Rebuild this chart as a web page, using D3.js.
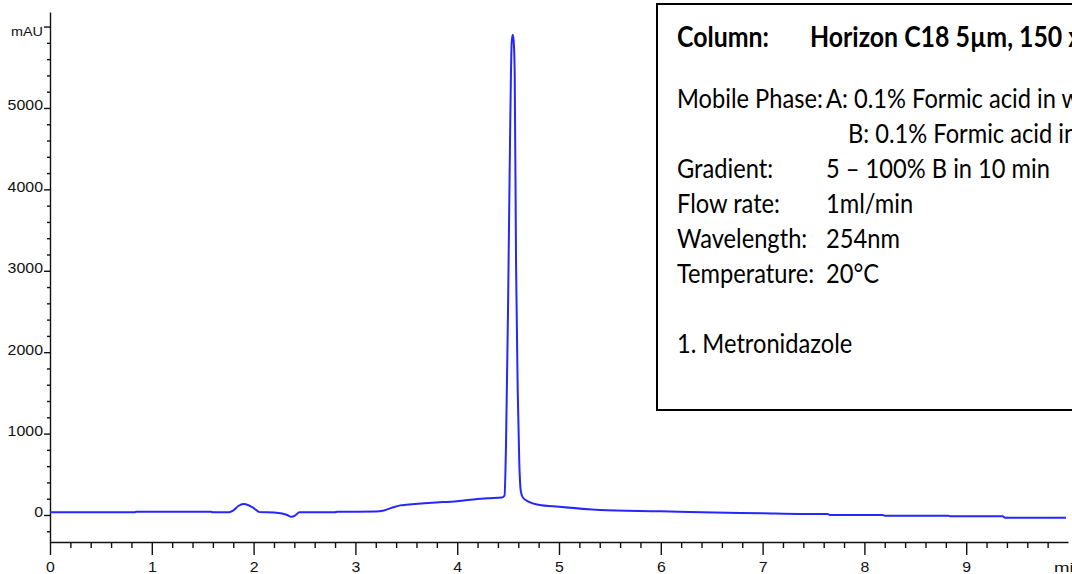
<!DOCTYPE html>
<html>
<head>
<meta charset="utf-8">
<script src="https://cdn.jsdelivr.net/npm/d3@7"></script>
<style>
  body { margin: 0; background: #fff; overflow: hidden; }
  svg { display: block; }
</style>
</head>
<body>
<script>
// chromatogram trace (time in min, signal in mAU)
var times = [0, 0.83, 0.85, 1.58, 1.6, 1.76, 1.8, 1.85, 1.9, 1.95, 2.0, 2.06, 2.2, 2.28, 2.33, 2.37, 2.41, 2.45,
  2.8, 2.82, 3.2, 3.28, 3.36, 3.44, 3.5, 3.75, 4.0, 4.2, 4.3, 4.44, 4.465, 4.48, 4.5, 4.52, 4.535, 4.545,
  4.555, 4.565, 4.578, 4.595, 4.61, 4.625, 4.645, 4.7, 4.8, 5.0, 5.4, 6.0, 6.4, 7.0, 7.37, 7.64, 7.66,
  8.18, 8.2, 8.82, 8.84, 9.36, 9.38, 9.98];
var signal = [33, 33, 40, 40, 33, 33, 55, 110, 135, 120, 85, 35, 30, 18, 0, -22, -5, 35,
  35, 40, 42, 55, 90, 118, 125, 150, 170, 195, 205, 215, 240, 900, 2600, 4700, 5800, 5900,
  5820, 5400, 3100, 1500, 640, 290, 215, 165, 125, 100, 62, 45, 32, 20, 12, 12, 0,
  0, -8, -8, -16, -16, -33, -33];

var xTicks = [0, 1, 2, 3, 4, 5, 6, 7, 8, 9];
var yTicks = [0, 1000, 2000, 3000, 4000, 5000, 6000];
var xUnit = "min";
var yUnit = "mAU";

// method box
var infoLabels = ["Mobile Phase:", "", "Gradient:", "Flow rate:", "Wavelength:", "Temperature:"];
var infoValues = ["A: 0.1% Formic acid in water", "B: 0.1% Formic acid in acetonitrile",
  "5 \u2013 100% B in 10 min", "1ml/min", "254nm", "20\u00B0C"];
var columnLabel = "Column:";
var columnValue = "Horizon C18 5\u00B5m, 150 x 4.6mm";
var peaks = ["1. Metronidazole"];

var width = 1072, height = 574;

var svg = d3.select("body").append("svg")
    .attr("width", width)
    .attr("height", height);

var x = d3.scaleLinear().domain([0, 10]).range([50, 1068]);
var y = d3.scaleLinear().domain([-332, 6179]).range([542, 12]);

var tickFont = "Liberation Sans, Arial, sans-serif";

// minor ticks
var xMinor = d3.range(1, 50).map(function(i) { return i / 5; }).filter(function(v) { return v % 1 !== 0; });
var yMinor = d3.range(-1, 31).map(function(i) { return i * 200; }).filter(function(v) { return v % 1000 !== 0; });

svg.append("g")
    .attr("transform", "translate(0," + y.range()[0] + ")")
    .call(d3.axisBottom(x).tickValues(xMinor).tickSize(6).tickSizeOuter(0).tickFormat(""))
    .call(function(g) { g.select(".domain").remove(); });

svg.append("g")
    .attr("transform", "translate(" + x.range()[0] + ",0)")
    .call(d3.axisLeft(y).tickValues(yMinor).tickSize(3).tickSizeOuter(0).tickFormat(""))
    .call(function(g) { g.select(".domain").remove(); });

function tickText(sel, size) {
  sel.attr("fill", "#111")
    .attr("font-family", tickFont)
    .attr("font-size", size);
}

// x axis
var xAxis = svg.append("g")
    .attr("transform", "translate(0," + y.range()[0] + ")")
    .call(d3.axisBottom(x).tickValues(xTicks).tickSize(13).tickSizeOuter(0).tickFormat(d3.format("d")));
xAxis.selectAll("text")
    .attr("y", 30)
    .attr("dy", 0)
    .call(tickText, 15)
    .attr("textLength", function(d) { return String(d).length * 8.8; })
    .attr("lengthAdjust", "spacingAndGlyphs");
xAxis.append("text")
    .attr("x", 1054)
    .attr("y", 30)
    .attr("text-anchor", "start")
    .call(tickText, 12)
    .attr("textLength", 30)
    .attr("lengthAdjust", "spacingAndGlyphs")
    .text(xUnit);

// y axis
var yAxis = svg.append("g")
    .attr("transform", "translate(" + x.range()[0] + ",0)")
    .call(d3.axisLeft(y).tickValues(yTicks).tickSize(6).tickSizeOuter(0)
      .tickFormat(function(d) { return d === 6000 ? "" : d; }));
yAxis.selectAll("text")
    .attr("x", -7)
    .attr("dy", 2)
    .call(tickText, 15)
    .attr("textLength", function(d) { return String(d).length * 8.85; })
    .attr("lengthAdjust", "spacingAndGlyphs");
yAxis.append("text")
    .attr("x", -7)
    .attr("y", 36)
    .attr("text-anchor", "end")
    .call(tickText, 12)
    .attr("textLength", 32)
    .attr("lengthAdjust", "spacingAndGlyphs")
    .text(yUnit);

svg.selectAll(".domain, .tick line").attr("stroke", "#111").attr("stroke-width", 1.4);

// trace
var pts = times.map(function(t, i) { return [t, signal[i]]; });
svg.append("path")
    .datum(pts)
    .attr("fill", "none")
    .attr("stroke", "#2626ff")
    .attr("stroke-width", 2)
    .attr("stroke-linejoin", "round")
    .attr("d", d3.line()
      .x(function(d) { return x(d[0]); })
      .y(function(d) { return y(d[1]); })
      .curve(d3.curveMonotoneX));

// method box
var box = svg.append("g");
box.append("rect")
    .attr("x", 657)
    .attr("y", 4)
    .attr("width", 440)
    .attr("height", 406)
    .attr("fill", "#fff")
    .attr("stroke", "#000")
    .attr("stroke-width", 2);

var boxFont = "Lato, Noto Sans, sans-serif";
// size the box text so "Mobile Phase:" spans as in the picture
var probe = box.append("text").attr("font-family", boxFont).attr("font-size", 20).text(infoLabels[0]);
var fs = 20 * 146 / probe.node().getComputedTextLength();
probe.remove();

function boxText(px, py, txt, bold) {
  box.append("text")
    .attr("transform", "translate(" + px + "," + py + ") scale(1,1.12)")
    .attr("font-family", boxFont)
    .attr("font-size", bold ? fs * 1.05 : fs)
    .attr("font-weight", bold ? "bold" : "normal")
    .attr("fill", "#000")
    .text(txt);
}

boxText(677, 47, columnLabel, true);
boxText(810, 47, columnValue, true);

infoLabels.forEach(function(d, i) { if (d) boxText(677, 108 + i * 35, d, false); });
infoValues.forEach(function(d, i) { boxText(i === 1 ? 848 : 826, 108 + i * 35, d, false); });
peaks.forEach(function(d, i) { boxText(677, 353 + i * 35, d, false); });
</script>
</body>
</html>
